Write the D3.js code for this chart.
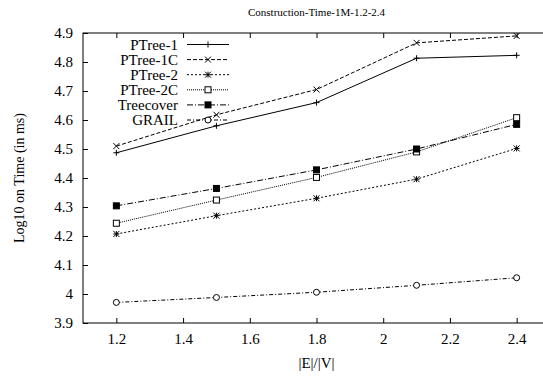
<!DOCTYPE html>
<html>
<head>
<meta charset="utf-8">
<script src="https://cdn.jsdelivr.net/npm/d3@7"></script>
<style>
body { margin: 0; background: #fff; }
svg { display: block; }
svg text { font-family: "Liberation Serif", "DejaVu Serif", serif !important; fill: #000; }
</style>
</head>
<body>
<svg id="chart" width="543" height="377"></svg>
<script>
// data
var xValues = [1.2, 1.5, 1.8, 2.1, 2.4];
var seriesNames = ["PTree-1", "PTree-1C", "PTree-2", "PTree-2C", "Treecover", "GRAIL"];
var ptree1 = [4.487, 4.58, 4.66, 4.813, 4.823];
var ptree1c = [4.51, 4.618, 4.705, 4.866, 4.89];
var ptree2 = [4.207, 4.27, 4.33, 4.396, 4.502];
var ptree2c = [4.244, 4.324, 4.402, 4.49, 4.608];
var treecover = [4.304, 4.364, 4.428, 4.5, 4.585];
var grail = [3.971, 3.988, 4.006, 4.03, 4.056];
var xTicks = [1.2, 1.4, 1.6, 1.8, 2, 2.2, 2.4];
var yTicks = [3.9, 4, 4.1, 4.2, 4.3, 4.4, 4.5, 4.6, 4.7, 4.8, 4.9];

var allSeries = [ptree1, ptree1c, ptree2, ptree2c, treecover, grail];
var dashes = ["none", "4,2", "2,2", "1,1", "6,2,1,2", "4,2,1,2"];
var markers = ["plus", "cross", "star", "box", "fbox", "circle"];

var svg = d3.select("#chart");
var plotL = 83, plotT = 33, plotB = 323, plotR = 550;

var x = d3.scaleLinear().domain([1.1, 2.5]).range([plotL, plotR]);
var y = d3.scaleLinear().domain([3.9, 4.9]).range([plotB, plotT]);

// frame
svg.append("rect")
  .attr("x", plotL).attr("y", plotT)
  .attr("width", plotR - plotL).attr("height", plotB - plotT)
  .attr("fill", "none").attr("stroke", "#000").attr("stroke-width", 1);

// axes
var xAxis = svg.append("g").attr("transform", "translate(0," + plotB + ")")
  .call(d3.axisBottom(x).tickValues(xTicks).tickSize(-5).tickPadding(10).tickFormat(d3.format("")));
var xTop = svg.append("g").attr("transform", "translate(0," + plotT + ")")
  .call(d3.axisTop(x).tickValues(xTicks).tickSize(-5).tickFormat(""));
var yAxis = svg.append("g").attr("transform", "translate(" + plotL + ",0)")
  .call(d3.axisLeft(y).tickValues(yTicks).tickSize(-5).tickPadding(10).tickFormat(d3.format("")));

[xAxis, xTop, yAxis].forEach(function(a){
  a.select(".domain").remove();
  a.attr("font-size", 15);
  a.selectAll("line").attr("stroke", "#000");
});

// titles
svg.append("text").attr("x", (plotL + plotR) / 2).attr("y", 16)
  .attr("text-anchor", "middle").attr("font-size", 11).text("Construction-Time-1M-1.2-2.4");
svg.append("text").attr("x", (plotL + plotR) / 2).attr("y", 368)
  .attr("text-anchor", "middle").attr("font-size", 15).text("|E|/|V|");
svg.append("text").attr("transform", "translate(24," + ((plotT + plotB) / 2) + ") rotate(-90)")
  .attr("text-anchor", "middle").attr("font-size", 14).text("Log10 on Time (in ms)");

function drawMarker(g, type, cx, cy){
  var s = 3;
  if(type == "plus"){
    g.append("path").attr("d", "M" + (cx - s) + "," + cy + "H" + (cx + s) + "M" + cx + "," + (cy - s) + "V" + (cy + s))
      .attr("stroke", "#000").attr("fill", "none");
  }
  else if(type == "cross"){
    g.append("path").attr("d", "M" + (cx - s) + "," + (cy - s) + "L" + (cx + s) + "," + (cy + s) + "M" + (cx - s) + "," + (cy + s) + "L" + (cx + s) + "," + (cy - s))
      .attr("stroke", "#000").attr("fill", "none");
  }
  else if(type == "star"){
    g.append("path").attr("d", "M" + (cx - s) + "," + cy + "H" + (cx + s) + "M" + cx + "," + (cy - s) + "V" + (cy + s) +
      "M" + (cx - s) + "," + (cy - s) + "L" + (cx + s) + "," + (cy + s) + "M" + (cx - s) + "," + (cy + s) + "L" + (cx + s) + "," + (cy - s))
      .attr("stroke", "#000").attr("fill", "none");
  }
  else if(type == "box" || type == "fbox"){
    g.append("rect").attr("x", cx - s).attr("y", cy - s).attr("width", 2 * s).attr("height", 2 * s)
      .attr("stroke", "#000").attr("fill", type == "fbox" ? "#000" : "#fff");
  }
  else {
    g.append("circle").attr("cx", cx).attr("cy", cy).attr("r", s)
      .attr("stroke", "#000").attr("fill", "#fff");
  }
}

var line = d3.line().x(function(d){ return x(d[0]); }).y(function(d){ return y(d[1]); });

allSeries.forEach(function(vals, i){
  var pts = xValues.map(function(v, j){ return [v, vals[j]]; });
  var g = svg.append("g");
  g.append("path").datum(pts).attr("d", line)
    .attr("fill", "none").attr("stroke", "#000").attr("stroke-width", 1)
    .attr("stroke-dasharray", dashes[i]);
  pts.forEach(function(p){ drawMarker(g, markers[i], x(p[0]), y(p[1])); });
});

// legend
var legY0 = 44.5, legStep = 15.1;
seriesNames.forEach(function(name, i){
  var ly = legY0 + i * legStep;
  var g = svg.append("g");
  g.append("text").attr("x", 178).attr("y", ly).attr("dy", "0.35em")
    .attr("text-anchor", "end").attr("font-size", 15).text(name);
  g.append("line").attr("x1", 187).attr("x2", 229).attr("y1", ly).attr("y2", ly)
    .attr("stroke", "#000").attr("stroke-dasharray", dashes[i]);
  drawMarker(g, markers[i], 208, ly);
});
</script>
</body>
</html>
